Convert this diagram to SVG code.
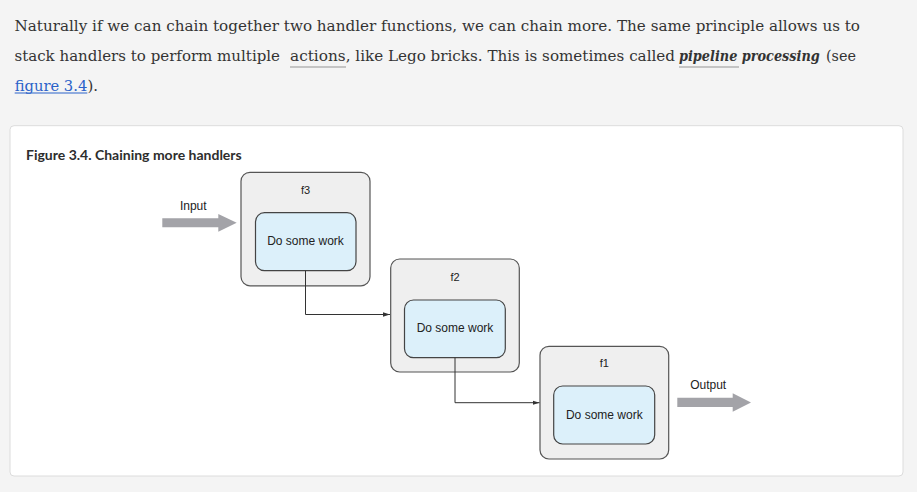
<svg xmlns="http://www.w3.org/2000/svg" width="917" height="492" viewBox="0 0 917 492">
<defs>
<style>
.p{font-family:"DejaVu Serif","Liberation Serif",serif;font-size:15px;fill:#333}
.pb{font-family:"DejaVu Serif","Liberation Serif",serif;font-size:15px;fill:#333;font-style:italic;font-weight:700}
.lnk{font-family:"DejaVu Serif","Liberation Serif",serif;font-size:15px;fill:#2a62c9}
.ttl{font-family:Lato,"Liberation Sans",sans-serif;font-size:12.5px;font-weight:700;fill:#2d2d2d}
.lbl{font-family:"Liberation Sans",Arial,sans-serif;font-size:12px;fill:#222;text-anchor:middle}
.outer{fill:#efefef;stroke:#555;stroke-width:1.2}
.inner{fill:#dcf0fa;stroke:#444;stroke-width:1.2}
.conn{fill:none;stroke:#333;stroke-width:1}
.big{fill:#a3a3a8}
</style>
<marker id="ah" markerWidth="8" markerHeight="6" refX="7" refY="3" orient="auto" markerUnits="userSpaceOnUse">
<path d="M0,0.8 L7,3 L0,5.2 Z" fill="#333"/>
</marker>
</defs>
<rect width="917" height="492" fill="#f4f4f4"/>
<g id="paragraph">
<text class="p" x="14.5" y="30.5" textLength="845.5" lengthAdjust="spacingAndGlyphs">Naturally if we can chain together two handler functions, we can chain more. The same principle allows us to</text>
<text class="p" x="14.5" y="60.5" textLength="265.5" lengthAdjust="spacingAndGlyphs">stack handlers to perform multiple</text>
<text class="p" x="290" y="60.5" textLength="55.7" lengthAdjust="spacingAndGlyphs">actions</text>
<line x1="290" y1="67" x2="346" y2="67" stroke="#c4c4c4" stroke-width="2"/>
<text class="p" x="345.7" y="60.5" textLength="329.3" lengthAdjust="spacingAndGlyphs">, like Lego bricks. This is sometimes called</text>
<text class="pb" transform="translate(679,60.5) scale(0.8,1)" x="0" y="0" textLength="176" lengthAdjust="spacingAndGlyphs">pipeline processing</text>
<line x1="679" y1="67" x2="739" y2="67" stroke="#c4c4c4" stroke-width="2"/>
<text class="p" x="826" y="60.5" textLength="30" lengthAdjust="spacingAndGlyphs">(see</text>
<text class="lnk" x="14.7" y="90.5" textLength="72.6" lengthAdjust="spacingAndGlyphs">figure 3.4</text>
<line x1="14.7" y1="93" x2="87.3" y2="93" stroke="#2a62c9" stroke-width="1"/>
<text class="p" x="87.5" y="90.5" textLength="10.5" lengthAdjust="spacingAndGlyphs">).</text>
</g>
<g id="card">
<rect x="10" y="125.7" width="893" height="350.3" rx="4" fill="#fff" stroke="#dcdcdc" stroke-width="1"/>
<text class="ttl" x="26" y="159.5" textLength="215.7" lengthAdjust="spacingAndGlyphs">Figure 3.4. Chaining more handlers</text>
</g>
<g id="input">
<text class="lbl" x="193.3" y="210">Input</text>
<path class="big" d="M162.3,218.3 H218.3 V214 L236.7,222.8 L218.3,231.7 V227.3 H162.3 Z"/>
</g>
<g id="f3">
<rect class="outer" x="241" y="172.3" width="129" height="113.5" rx="9"/>
<text class="lbl" x="305.5" y="194" style="font-size:11px">f3</text>
<rect class="inner" x="255.5" y="212.7" width="100.5" height="58" rx="9"/>
<text class="lbl" x="305.5" y="245">Do some work</text>
</g>
<g id="f2">
<rect class="outer" x="390.7" y="259" width="128.6" height="113" rx="9"/>
<text class="lbl" x="455" y="280.7" style="font-size:11px">f2</text>
<rect class="inner" x="404.5" y="300" width="100.8" height="57.7" rx="9"/>
<text class="lbl" x="455" y="332">Do some work</text>
</g>
<g id="f1">
<rect class="outer" x="540" y="346.3" width="128.7" height="112.7" rx="9"/>
<text class="lbl" x="604.3" y="367.3" style="font-size:11px">f1</text>
<rect class="inner" x="553.7" y="386" width="101" height="58" rx="9"/>
<text class="lbl" x="604.3" y="418.7">Do some work</text>
</g>
<g id="output">
<text class="lbl" x="708.2" y="389.3">Output</text>
<path class="big" d="M677.3,397.7 H732.7 V393.3 L751,402.4 L732.7,411.7 V407 H677.3 Z"/>
</g>
<g id="connectors">
<path class="conn" d="M305.5,270.7 V314.5 H390" marker-end="url(#ah)"/>
<path class="conn" d="M455,357.7 V402.7 H539.5" marker-end="url(#ah)"/>
</g>
</svg>
